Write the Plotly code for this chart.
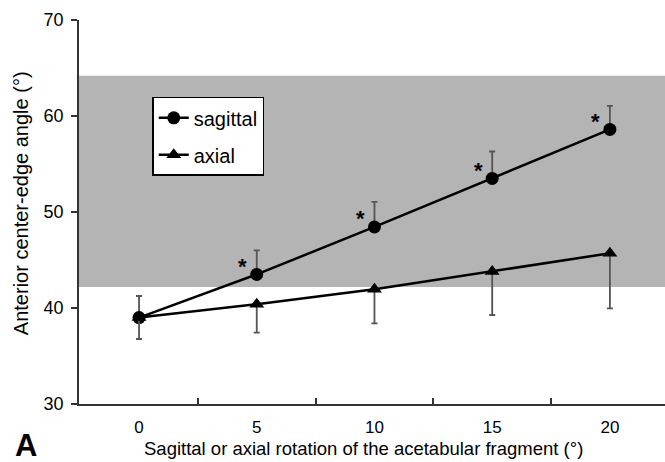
import plotly.graph_objects as go

rotation = [0, 5, 10, 15, 20]
sagittal = [39.0, 43.5, 48.45, 53.5, 58.6]
sagittal_err_up = [2.25, 2.5, 2.6, 2.8, 2.45]
axial = [39.0, 40.4, 41.95, 43.8, 45.7]
axial_err_down = [2.23, 2.97, 3.55, 4.53, 5.73]
band_low, band_high = 42.2, 64.2
sig_points = [5, 10, 15, 20]

FONT = "Liberation Sans, Arial, sans-serif"

fig = go.Figure()
fig.add_shape(type="rect", xref="paper", x0=0, x1=1, yref="y", y0=band_low, y1=band_high,
              fillcolor="#b4b4b4", line_width=0, layer="below")

fig.add_trace(go.Scatter(
    x=rotation, y=sagittal, name="sagittal", mode="lines+markers", legendgroup="s",
    line=dict(color="black", width=2.5),
    marker=dict(symbol="circle", size=13, color="black"),
    error_y=dict(type="data", array=sagittal_err_up, arrayminus=[0]*5, symmetric=False,
                 color="#555555", thickness=1.8, width=3),
))
fig.add_trace(go.Scatter(
    x=rotation, y=axial, name="axial", mode="lines+markers", legendgroup="a",
    line=dict(color="black", width=2.5),
    marker=dict(symbol="triangle-up", size=13, color="black"),
    error_y=dict(type="data", array=[0]*5, arrayminus=axial_err_down, symmetric=False,
                 color="#555555", thickness=1.8, width=3),
))

for xv in sig_points:
    yv = sagittal[rotation.index(xv)]
    fig.add_annotation(x=xv, y=yv, text="<b>*</b>", showarrow=False, xshift=-14, yshift=8,
                       font=dict(family=FONT, size=22, color="black"))

fig.add_annotation(xref="paper", yref="paper", x=-0.113, y=-0.109, text="<b>A</b>",
                   showarrow=False, xanchor="left", yanchor="middle",
                   font=dict(family=FONT, size=31, color="black"))

fig.add_annotation(xref="paper", yref="paper", x=0.486, y=-0.117,
                   text="Sagittal or axial rotation of the acetabular fragment (°)",
                   showarrow=False, xanchor="center", yanchor="middle",
                   font=dict(family=FONT, size=18.5, color="black"))
fig.add_annotation(xref="paper", yref="paper", x=-0.099, y=0.523,
                   text="Anterior center-edge angle (°)", textangle=-90,
                   showarrow=False, xanchor="center", yanchor="middle",
                   font=dict(family=FONT, size=20, color="black"))

fig.update_layout(
    width=665, height=462,
    margin=dict(l=79, r=0, t=20, b=58),
    plot_bgcolor="white", paper_bgcolor="white",
    font=dict(family=FONT, size=17, color="black"),
    showlegend=True,
    legend=dict(x=0.125, y=0.80, xanchor="left", yanchor="top",
                bgcolor="white", bordercolor="black", borderwidth=1.5,
                font=dict(size=20), itemwidth=30, tracegroupgap=8),
    xaxis=dict(range=[-2.55, 22.34], tickvals=rotation, ticks="", showgrid=False,
               zeroline=False, showline=True, linecolor="#333333", linewidth=1.5,
               tickfont=dict(size=17), ticklabelstandoff=7,
               minor=dict(tickvals=[2.5, 7.5, 12.5, 17.5], ticks="inside", ticklen=6,
                          tickcolor="#333333", tickwidth=1.5, showgrid=False)),
    yaxis=dict(range=[30, 70], tickvals=[30, 40, 50, 60, 70], ticks="outside", ticklen=6,
               tickcolor="#333333", tickwidth=1.5, showgrid=False, zeroline=False,
               showline=True, linecolor="#333333", linewidth=1.5,
               tickfont=dict(size=18), ticklabelstandoff=4),
)

fig.write_html("out.html")
